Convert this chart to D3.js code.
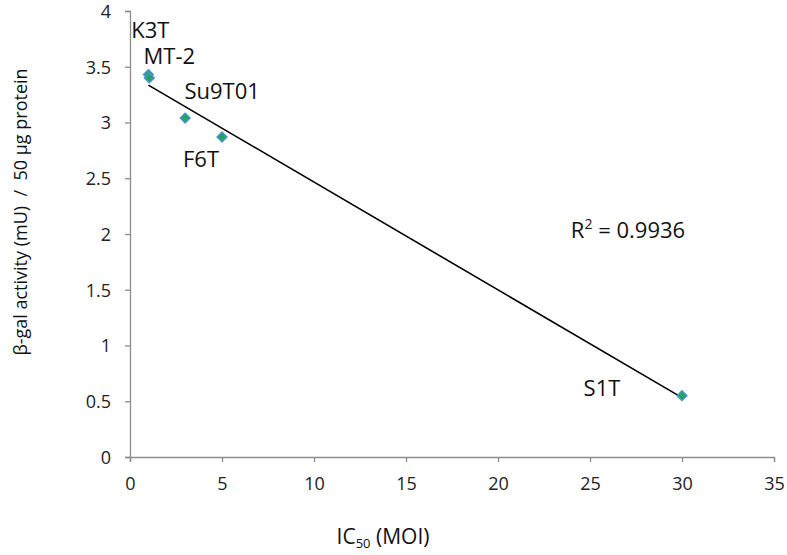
<!DOCTYPE html>
<html>
<head>
<meta charset="utf-8">
<script src="https://cdn.jsdelivr.net/npm/d3@7"></script>
<style>
  body { margin: 0; background: #fff; }
  text { font-family: "Open Sans", "Noto Sans", sans-serif; }
</style>
</head>
<body>
<svg></svg>
<script>
// chart size
const width = 787, height = 555;
const margin = { top: 11, right: 13, bottom: 98, left: 130 };

// data
const strains = ['K3T', 'MT-2', 'Su9T01', 'F6T', 'S1T'];
const ic50 = [1.0, 1.05, 3.0, 5.0, 30.0];
const betaGal = [3.43, 3.40, 3.04, 2.87, 0.55];
const xTicks = [0, 5, 10, 15, 20, 25, 30, 35];
const yTicks = [0, 0.5, 1, 1.5, 2, 2.5, 3, 3.5, 4];
const rSquared = '0.9936';

// label offsets (px) for each point label
const labelOffset = [[2, -46], [20, -23], [37, -28], [-21, 21], [-80, -9]];

const svg = d3.select('svg')
  .attr('width', width)
  .attr('height', height);

const x = d3.scaleLinear().domain([0, 35]).range([margin.left, width - margin.right]);
const y = d3.scaleLinear().domain([0, 4]).range([height - margin.bottom, margin.top]);

// axes
const xAxis = svg.append('g')
  .attr('transform', `translate(0,${y(0)})`)
  .call(d3.axisBottom(x).tickValues(xTicks).tickSize(5).tickPadding(14).tickFormat(d3.format('d')));
const yAxis = svg.append('g')
  .attr('transform', `translate(${x(0)},0)`)
  .call(d3.axisLeft(y).tickValues(yTicks).tickSize(5).tickPadding(14).tickFormat(d => d));

[xAxis, yAxis].forEach(a => {
  a.selectAll('path, line').attr('stroke', '#8c8c8c').attr('stroke-width', 1.3);
  a.selectAll('text').attr('fill', '#222').attr('font-size', 18).attr('font-family', '"Open Sans", sans-serif');
});
xAxis.selectAll('text').attr('dy', '0.75em');
yAxis.selectAll('text').attr('dy', '0.36em');

// linear trend line (least squares)
const n = ic50.length;
const mx = d3.mean(ic50), my = d3.mean(betaGal);
let sxy = 0, sxx = 0;
for (let i = 0; i < n; i++) {
  sxy += (ic50[i] - mx) * (betaGal[i] - my);
  sxx += (ic50[i] - mx) * (ic50[i] - mx);
}
const slope = sxy / sxx, intercept = my - slope * mx;
const xr = d3.extent(ic50);

svg.append('line')
  .attr('x1', x(xr[0])).attr('y1', y(intercept + slope * xr[0]))
  .attr('x2', x(xr[1])).attr('y2', y(intercept + slope * xr[1]))
  .attr('stroke', '#000').attr('stroke-width', 1.6);

// diamond markers
const diamond = d3.symbol().type(d3.symbolDiamond2).size(60);
svg.selectAll('.pt')
  .data(ic50)
  .join('path')
  .attr('class', 'pt')
  .attr('transform', (d, i) => `translate(${x(d)},${y(betaGal[i])})`)
  .attr('d', diamond)
  .attr('fill', '#1fa463')
  .attr('stroke', '#4a93c9')
  .attr('stroke-width', 1.5);

// point labels
svg.selectAll('.lbl')
  .data(strains)
  .join('text')
  .attr('class', 'lbl')
  .attr('x', (d, i) => x(ic50[i]) + labelOffset[i][0])
  .attr('y', (d, i) => y(betaGal[i]) + labelOffset[i][1])
  .attr('text-anchor', 'middle')
  .attr('dominant-baseline', 'central')
  .attr('font-size', 22)
  .attr('fill', '#111')
  .text(d => d);

// R squared
const rt = svg.append('text')
  .attr('x', 628).attr('y', 238)
  .attr('text-anchor', 'middle')
  .attr('font-size', 22)
  .attr('fill', '#111');
rt.append('tspan').text('R');
rt.append('tspan').attr('font-size', 14).attr('dy', -9).text('2');
rt.append('tspan').attr('dy', 9).text(' = ' + rSquared);

// axis titles
const xt = svg.append('text')
  .attr('x', 383).attr('y', 544)
  .attr('text-anchor', 'middle')
  .attr('font-size', 21)
  .attr('fill', '#111');
xt.append('tspan').text('IC');
xt.append('tspan').attr('font-size', 13).attr('dy', 4).text('50');
xt.append('tspan').attr('dy', -4).text(' (MOI)');

svg.append('text')
  .attr('transform', 'translate(20,212) rotate(-90)')
  .attr('text-anchor', 'middle')
  .attr('dominant-baseline', 'central')
  .attr('font-size', 18)
  .attr('fill', '#111')
  .attr('xml:space', 'preserve')
  .style('white-space', 'pre')
  .text('β-gal activity (mU)  /  50 µg protein');
</script>
</body>
</html>
